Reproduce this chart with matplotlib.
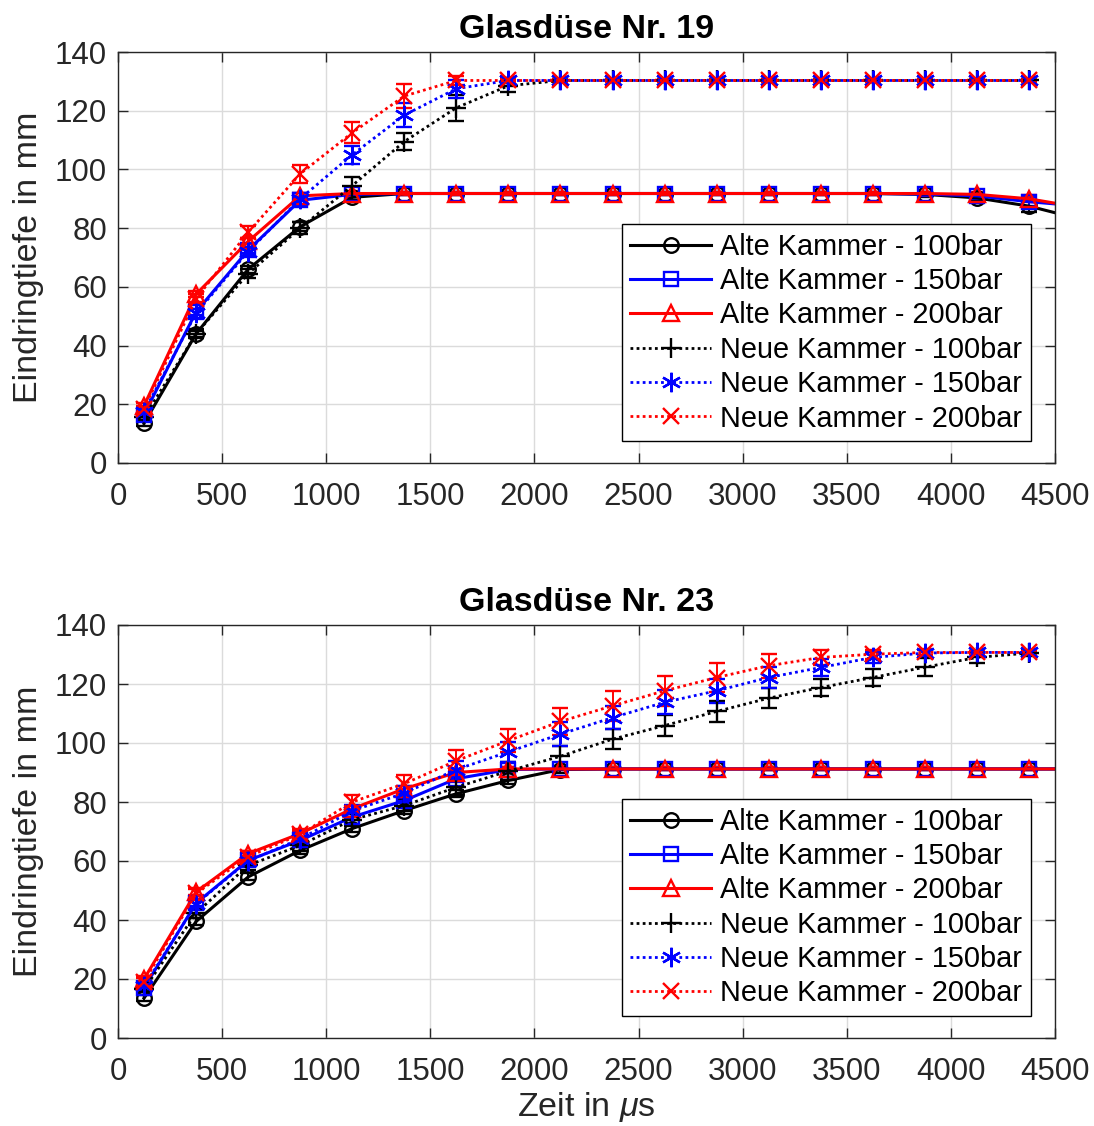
import matplotlib
matplotlib.use("Agg")
import matplotlib.pyplot as plt

plt.rcParams['font.family'] = ['Liberation Sans', 'DejaVu Sans']
plt.rcParams['mathtext.fontset'] = 'custom'
plt.rcParams['mathtext.it'] = 'Liberation Sans:italic'
plt.rcParams['mathtext.rm'] = 'Liberation Sans'

# ---------------- data ----------------
t_old = [125, 375, 625, 875, 1125, 1375, 1625, 1875, 2125, 2375, 2625, 2875,
         3125, 3375, 3625, 3875, 4125, 4375, 4625]
t_new = [125, 375, 625, 875, 1125, 1375, 1625, 1875, 2125, 2375, 2625, 2875,
         3125, 3375, 3625, 3875, 4125, 4375]

labels = ["Alte Kammer - 100bar", "Alte Kammer - 150bar", "Alte Kammer - 200bar",
          "Neue Kammer - 100bar", "Neue Kammer - 150bar", "Neue Kammer - 200bar"]

# Glasdüse Nr. 19
a19_100 = [13.5, 44, 66, 80.5, 90.5, 91.8, 91.8, 91.8, 91.8, 91.8, 91.8, 91.8,
           91.8, 91.8, 91.8, 91.5, 90.3, 87.5, 83]
a19_150 = [16.5, 51.5, 72.5, 89.5, 91.5, 91.8, 91.8, 91.8, 91.8, 91.8, 91.8, 91.8,
           91.8, 91.8, 91.8, 91.6, 91, 89, 87.5]
a19_200 = [19.5, 57.5, 75.5, 91, 91.8, 91.8, 91.8, 91.8, 91.8, 91.8, 91.8, 91.8,
           91.8, 91.8, 91.8, 91.8, 91.5, 90, 87]
n19_100 = [15.5, 44, 64.5, 80, 94.5, 109.5, 121, 128.5, 130.3, 130.3, 130.3, 130.3,
           130.3, 130.3, 130.3, 130.3, 130.3, 130.3]
n19_150 = [17.5, 51, 72, 90, 105, 118.5, 127.5, 130.3, 130.3, 130.3, 130.3, 130.3,
           130.3, 130.3, 130.3, 130.3, 130.3, 130.3]
n19_200 = [18.5, 56, 78.6, 98.5, 112.5, 125, 130.3, 130.3, 130.3, 130.3, 130.3, 130.3,
           130.3, 130.3, 130.3, 130.3, 130.3, 130.3]

e19_a100 = [1, 1, 1.2, 1.5, 1, 0.6, 0.5, 0.5, 0.5, 0.5, 0.5, 0.5, 0.5, 0.5, 0.5, 0.8, 1.2, 2, 2]
e19_a150 = [1, 1, 1, 1.2, 0.8, 0.5, 0.5, 0.5, 0.5, 0.5, 0.5, 0.5, 0.5, 0.5, 0.5, 0.6, 1, 1.5, 1.5]
e19_a200 = [1, 1, 1, 1, 0.8, 0.5, 0.5, 0.5, 0.5, 0.5, 0.5, 0.5, 0.5, 0.5, 0.5, 0.6, 0.8, 1.2, 1.2]
e19_n100 = [1, 1.5, 1.5, 2, 3, 3, 4.5, 2, 0.5, 0.5, 0.5, 0.5, 0.5, 0.5, 0.5, 0.5, 0.5, 0.5]
e19_n150 = [1, 1.5, 1.5, 2, 3, 4, 3, 1, 0.5, 0.5, 0.5, 0.5, 0.5, 0.5, 0.5, 0.5, 0.5, 0.5]
e19_n200 = [1, 1.5, 2, 3, 3.5, 4, 1.5, 0.5, 0.5, 0.5, 0.5, 0.5, 0.5, 0.5, 0.5, 0.5, 0.5, 0.5]

# Glasdüse Nr. 23
a23_100 = [13.5, 39.5, 54.6, 63.6, 71, 77.1, 82.8, 87.3, 91, 91.2, 91.2, 91.2,
           91.2, 91.2, 91.2, 91.2, 91.2, 91.2, 91.2]
a23_150 = [17, 45.7, 60.2, 67, 74.9, 80.5, 87.9, 91, 91.2, 91.2, 91.2, 91.2,
           91.2, 91.2, 91.2, 91.2, 91.2, 91.2, 91.2]
a23_200 = [20, 49.5, 62.5, 69.3, 77.7, 84.5, 90, 91.2, 91.2, 91.2, 91.2, 91.2,
           91.2, 91.2, 91.2, 91.2, 91.2, 91.2, 91.2]
n23_100 = [16.5, 42.3, 58.5, 65.3, 74, 78.8, 85, 90.5, 95.5, 101.3, 105.9, 110.7,
           115.2, 118.8, 122.2, 125.7, 129, 130.5]
n23_150 = [17.5, 45.5, 60, 67.5, 77, 83, 91, 97, 103, 108.6, 113.8, 117.7,
           122.2, 125.6, 129, 130.5, 130.7, 130.7]
n23_200 = [19, 49, 61.5, 69, 80, 86.2, 94, 100.8, 107.3, 112.6, 117.7, 122.2,
           126.2, 129, 130.1, 130.7, 130.7, 130.7]

e23_a100 = [1, 1.2, 1.2, 1.2, 1.2, 1.2, 1.2, 1.2, 1, 0.5, 0.5, 0.5, 0.5, 0.5, 0.5, 0.5, 0.5, 0.5, 0.5]
e23_a150 = [1, 1, 1, 1, 1, 1, 1, 1, 0.5, 0.5, 0.5, 0.5, 0.5, 0.5, 0.5, 0.5, 0.5, 0.5, 0.5]
e23_a200 = [1, 1, 1, 1, 1, 1, 1, 0.8, 0.5, 0.5, 0.5, 0.5, 0.5, 0.5, 0.5, 0.5, 0.5, 0.5, 0.5]
e23_n100 = [1, 1.5, 1.5, 2, 2, 2, 2.5, 3, 3.5, 3.5, 3.5, 3.5, 3.5, 3, 3, 3, 2, 1]
e23_n150 = [1, 1.5, 1.5, 2, 2, 2.5, 3, 3.5, 4, 4, 4, 4, 3.5, 3, 2, 1, 0.5, 0.5]
e23_n200 = [1.5, 2, 2, 2, 2.5, 3, 3.5, 4, 4.5, 5, 5, 5, 4, 2.5, 1.5, 1, 0.5, 0.5]

xticks = [0, 500, 1000, 1500, 2000, 2500, 3000, 3500, 4000, 4500]
yticks = [0, 20, 40, 60, 80, 100, 120, 140]

# ---------------- styles ----------------
BLACK, BLUE, RED = 'k', (0, 0, 1), (1, 0, 0)
DOT = (0, (1, 1.2))
styles = [
    dict(color=BLACK, ls='-', marker='o', ms=10.5, lw=2.2),
    dict(color=BLUE, ls='-', marker='s', ms=9.5, lw=2.2),
    dict(color=RED, ls='-', marker='^', ms=11.5, lw=2.2),
    dict(color=BLACK, ls=DOT, marker='+', ms=15, lw=2.0),
    dict(color=BLUE, ls=DOT, marker=(6, 2, 0), ms=14, lw=2.0),
    dict(color=RED, ls=DOT, marker='x', ms=11, lw=2.0),
]
GREY = (0.15, 0.15, 0.15)

fig = plt.figure(figsize=(10.94, 11.26), dpi=100)
ax1 = fig.add_axes([118/1094, 1 - 463/1126, 937/1094, 411/1126])
ax2 = fig.add_axes([118/1094, 1 - 1038/1126, 937/1094, 413/1126])

panels = [
    (ax1, "Glasdüse Nr. 19",
     [(t_old, a19_100, e19_a100), (t_old, a19_150, e19_a150), (t_old, a19_200, e19_a200),
      (t_new, n19_100, e19_n100), (t_new, n19_150, e19_n150), (t_new, n19_200, e19_n200)]),
    (ax2, "Glasdüse Nr. 23",
     [(t_old, a23_100, e23_a100), (t_old, a23_150, e23_a150), (t_old, a23_200, e23_a200),
      (t_new, n23_100, e23_n100), (t_new, n23_150, e23_n150), (t_new, n23_200, e23_n200)]),
]

for ax, title, series in panels:
    handles = []
    for (x, y, e), st, lab in zip(series, styles, labels):
        cont = ax.errorbar(x, y, yerr=e, color=st['color'], ls=st['ls'], lw=st['lw'],
                           marker=st['marker'], ms=st['ms'], mfc='none',
                           mec=st['color'], mew=1.7, ecolor=st['color'],
                           elinewidth=1.4, capsize=6, capthick=1.4, label=lab)
        handles.append(cont[0])
    ax.set_xlim(0, 4500)
    ax.set_ylim(0, 140)
    ax.set_xticks(xticks)
    ax.set_yticks(yticks)
    ax.grid(True, color=(0.86, 0.86, 0.86), lw=1.0)
    ax.set_axisbelow(True)
    ax.tick_params(direction='in', length=7, width=1.0, top=True, right=True,
                   labelsize=22.5, colors=GREY)
    ax.tick_params(axis='x', pad=14)
    ax.tick_params(axis='y', pad=8)
    for sp in ax.spines.values():
        sp.set_color(GREY)
        sp.set_linewidth(1.0)
    ax.set_title(title, fontsize=24.5, fontweight='bold', pad=10)
    ax.set_ylabel("Eindringtiefe in mm", fontsize=24.5, color=GREY, labelpad=8)
    leg = ax.legend(handles, labels, loc='lower right', bbox_to_anchor=(0.974, 0.053),
                    fontsize=20.8, frameon=True, fancybox=False, framealpha=1,
                    edgecolor='k', handlelength=2.8, handletextpad=0.3,
                    borderpad=0.3, labelspacing=0.22, borderaxespad=0)
    leg.get_frame().set_linewidth(1.0)

ax2.set_xlabel(r"Zeit in $\mu$s", fontsize=24.5, color=GREY, labelpad=2)

fig.savefig("out.png", dpi=100)
